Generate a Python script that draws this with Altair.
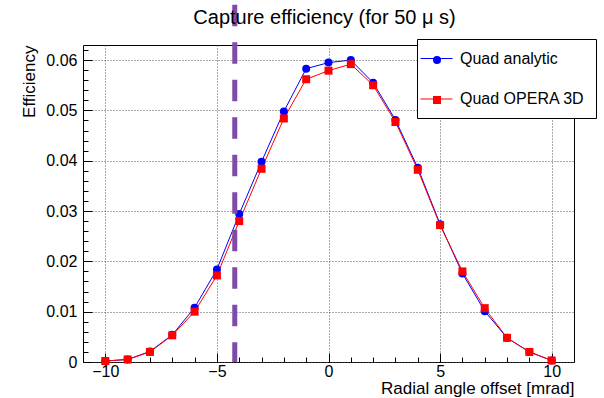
import altair as alt
import pandas as pd

# ---- data ----
offsets = list(range(-10, 11))
analytic = [0.0002, 0.0005, 0.0021, 0.0054, 0.0108, 0.0184, 0.0294, 0.0398, 0.0498, 0.0583,
            0.0595, 0.0600, 0.0555, 0.0481, 0.0386, 0.0274, 0.0176, 0.0101, 0.0048, 0.0020, 0.0003]
opera = [0.0002, 0.0005, 0.0020, 0.0053, 0.0100, 0.0172, 0.0280, 0.0384, 0.0484, 0.0562,
         0.0579, 0.0592, 0.0550, 0.0477, 0.0382, 0.0272, 0.0180, 0.0107, 0.0048, 0.0020, 0.0003]
series_names = ["Quad analytic", "Quad OPERA 3D"]
marker_keys = ["analytic markers", "OPERA markers"]
series_colors = ["#0000ff", "#ff0000"]
series_shapes = ["circle", "square"]

cut_offset = [-4.2]
cut_top = [0.071]
cut_bottom = [0.0]

x_domain = [-11, 11]
y_domain = [0, 0.063]
x_major = [-10, -5, 0, 5, 10]
x_minor = list(range(-11, 12))
y_major = [0.0, 0.01, 0.02, 0.03, 0.04, 0.05, 0.06]
y_minor = [round(i * 0.002, 3) for i in range(0, 32)]

W, H = 491, 317
FONT = "Liberation Sans"

rows = []
for name, mkey, vals in zip(series_names, marker_keys, [analytic, opera]):
    for o, v in zip(offsets, vals):
        rows.append({"offset": o, "eff": v, "series": name, "series_m": mkey})
df = pd.DataFrame(rows)
cut_df = pd.DataFrame({"offset": cut_offset, "top": cut_top, "bottom": cut_bottom})

xs = alt.Scale(domain=x_domain, nice=False, zero=False)
ys = alt.Scale(domain=y_domain, nice=False)

base = alt.Chart(df)

lines = base.mark_line(strokeWidth=1).encode(
    x=alt.X("offset:Q", scale=xs, axis=alt.Axis(
        orient="bottom", values=x_major, tickSize=0, domain=False, labelPadding=1,
        labelFontSize=16, grid=True, gridDash=[1, 2], gridColor="#555", gridWidth=1,
        title="Radial angle offset [mrad]", titleAnchor="end", titleFontSize=17,
        titleFontWeight="normal", titlePadding=1)),
    y=alt.Y("eff:Q", scale=ys, axis=alt.Axis(
        orient="left", values=y_major, tickSize=0, domain=False, labelPadding=6,
        labelFontSize=16, grid=True, gridDash=[1, 2], gridColor="#555", gridWidth=1,
        labelExpr="datum.value == 0 ? '0' : format(datum.value, '.2f')",
        title="Efficiency", titleAnchor="end", titleFontSize=17,
        titleFontWeight="normal", titlePadding=7)),
    stroke=alt.Stroke("series:N", scale=alt.Scale(domain=series_names, range=series_colors),
                      legend=alt.Legend(orient="none", legendX=334, legendY=-6, title=None,
                                        symbolType="M-2,0H2", symbolSize=256, symbolStrokeWidth=1,
                                        symbolOffset=0,
                                        labelFontSize=16, labelFont=FONT, labelOffset=15,
                                        padding=11, rowPadding=23.5, strokeColor="black",
                                        fillColor="white", labelExpr="datum.label + '  '")),
    order="offset:Q",
)

points = base.mark_point(filled=True, size=64, opacity=1, strokeWidth=0).encode(
    x=alt.X("offset:Q", scale=xs, axis=None),
    y=alt.Y("eff:Q", scale=ys, axis=None),
    fill=alt.Fill("series_m:N", scale=alt.Scale(domain=marker_keys, range=series_colors),
                  legend=alt.Legend(orient="none", legendX=336, legendY=-3, title=None,
                                    symbolSize=64, symbolStrokeWidth=0, labelFontSize=16,
                                    labelFont=FONT, labelOffset=0, padding=10, rowPadding=24,
                                    labelExpr="''")),
    shape=alt.Shape("series_m:N", scale=alt.Scale(domain=marker_keys, range=series_shapes)),
)

major_ticks = base.mark_point(opacity=0).encode(
    x=alt.X("offset:Q", scale=xs, axis=alt.Axis(
        orient="top", offset=-H, values=x_major, tickSize=9, labels=False, domain=False,
        grid=False, title=None, tickColor="black")),
    y=alt.Y("eff:Q", scale=ys, axis=alt.Axis(
        orient="right", offset=-W, values=y_major, tickSize=9, labels=False, domain=False,
        grid=False, title=None, tickColor="black")),
)

minor_ticks = base.mark_point(opacity=0).encode(
    x=alt.X("offset:Q", scale=xs, axis=alt.Axis(
        orient="top", offset=-H, values=x_minor, tickSize=5, labels=False, domain=False,
        grid=False, title=None, tickColor="black")),
    y=alt.Y("eff:Q", scale=ys, axis=alt.Axis(
        orient="right", offset=-W, values=y_minor, tickSize=5, labels=False, domain=False,
        grid=False, title=None, tickColor="black")),
)

cut_rule = alt.Chart(cut_df).mark_rule(color="#7f4aa8", strokeWidth=5, strokeDash=[21.5, 16],
                                       clip=False).encode(
    x=alt.X("offset:Q", scale=xs, axis=None),
    y=alt.Y("top:Q", scale=ys, axis=None),
    y2="bottom:Q",
)

chart = alt.layer(major_ticks, minor_ticks, lines, points, cut_rule).resolve_axis(
    x="independent", y="independent"
).properties(
    width=W, height=H,
    autosize="none",
    padding={"left": 83, "top": 45, "right": 30, "bottom": 36},
    background="white",
    title=alt.TitleParams("Capture efficiency (for 50 μ s)", fontSize=20, font=FONT,
                          fontWeight="normal", anchor="middle", dx=-4, offset=-46,
                          frame="group", baseline="bottom", color="black"),
).configure_view(stroke="black", strokeWidth=1).configure_axis(
    labelFont=FONT, titleFont=FONT, labelColor="black", titleColor="black"
).configure_legend(labelColor="black")

chart.save("out.html", embed_options={"renderer": "svg", "actions": False})
